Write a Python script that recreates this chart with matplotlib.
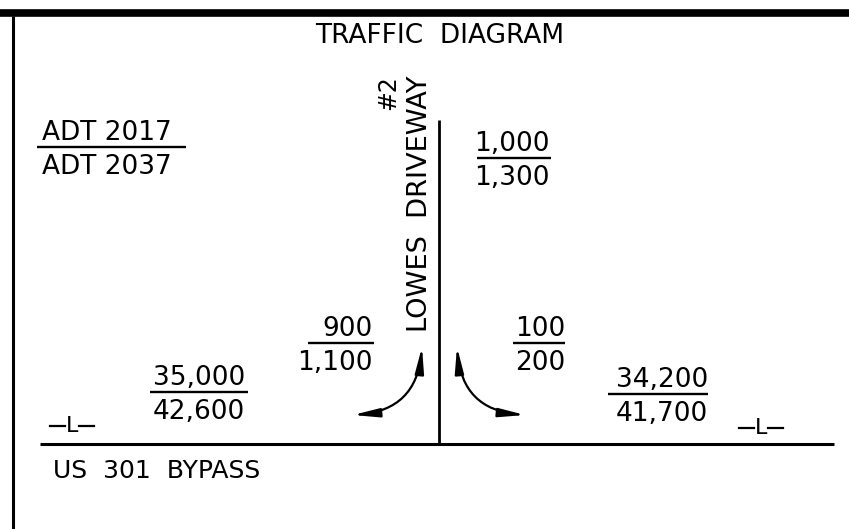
import matplotlib
matplotlib.use('Agg')
import matplotlib.pyplot as plt
from matplotlib.patches import FancyArrowPatch

# ADT volumes per movement (top = 2017, bottom = 2037)
movements = ['US 301 BYPASS WEST', 'LOWES DRIVEWAY', 'LEFT TURN', 'RIGHT TURN', 'US 301 BYPASS EAST']
adt_2017 = [35000, 1000, 900, 100, 34200]
adt_2037 = [42600, 1300, 1100, 200, 41700]
legend_top = 'ADT 2017'
legend_bottom = 'ADT 2037'

# where each fraction sits: right edge of text, fraction bar y, bar start, bar end
label_pos = [(245, 392, 150, 248),
             (550, 158, 477, 551),
             (373, 343, 308, 374),
             (565, 343, 513, 565),
             (708, 394, 608, 708)]

plt.rcParams['font.family'] = ['DejaVu Sans']
FS = 19

fig = plt.figure(figsize=(8.49, 5.29), dpi=100)
fig.set_facecolor('white')
ax = fig.add_axes([0, 0, 1, 1])
ax.set_xlim(0, 849)
ax.set_ylim(529, 0)
ax.axis('off')


def fraction(x_text, y_line, x0, x1, top, bottom, ha='right'):
    ax.plot([x0, x1], [y_line, y_line], color='black', lw=1.7, solid_capstyle='butt')
    ax.text(x_text, y_line - 7, top, ha=ha, va='baseline', fontsize=FS)
    ax.text(x_text, y_line + 27, bottom, ha=ha, va='baseline', fontsize=FS)


# frame
ax.plot([0, 849], [13, 13], color='black', lw=5.5, solid_capstyle='butt')
ax.plot([13, 13], [16, 529], color='black', lw=2.2, solid_capstyle='butt')

# roads
ax.plot([40, 834], [444, 444], color='black', lw=2.2, solid_capstyle='butt')
ax.plot([439, 439], [120, 444], color='black', lw=2, solid_capstyle='butt')

ax.text(440, 43, 'TRAFFIC  DIAGRAM', ha='center', va='baseline', fontsize=FS)
ax.text(53, 478, 'US  301  BYPASS', ha='left', va='baseline', fontsize=18)

ax.text(427, 75, 'LOWES  DRIVEWAY', rotation=90, rotation_mode='anchor',
        ha='right', va='baseline', fontsize=19.6)
ax.text(395, 75, '#2', rotation=90, rotation_mode='anchor',
        ha='right', va='baseline', fontsize=17)

# legend fraction
fraction(42, 147, 37, 186, legend_top, legend_bottom, ha='left')

for (xr, yl, x0, x1), a, b in zip(label_pos, adt_2017, adt_2037):
    fraction(xr, yl, x0, x1, f'{a:,}', f'{b:,}')

# centerline marks
for xc, yb in [(72, 432), (761, 434)]:
    ax.text(xc, yb, 'L', ha='center', va='baseline', fontsize=16)
    ax.plot([xc - 22, xc - 7], [yb - 6, yb - 6], color='black', lw=1.6)
    ax.plot([xc + 7, xc + 22], [yb - 6, yb - 6], color='black', lw=1.6)

# turning movement arrows
for pa, pb, rad in [((422, 347), (353, 415), -0.42), ((457, 347), (525, 415), 0.42)]:
    arr = FancyArrowPatch(pa, pb, connectionstyle=f'arc3,rad={rad}',
                          arrowstyle='<|-|>,head_length=1.3,head_width=0.22',
                          mutation_scale=12, color='black', lw=1.6,
                          shrinkA=0, shrinkB=0)
    ax.add_patch(arr)

fig.savefig('out.png', dpi=100, facecolor='white')
